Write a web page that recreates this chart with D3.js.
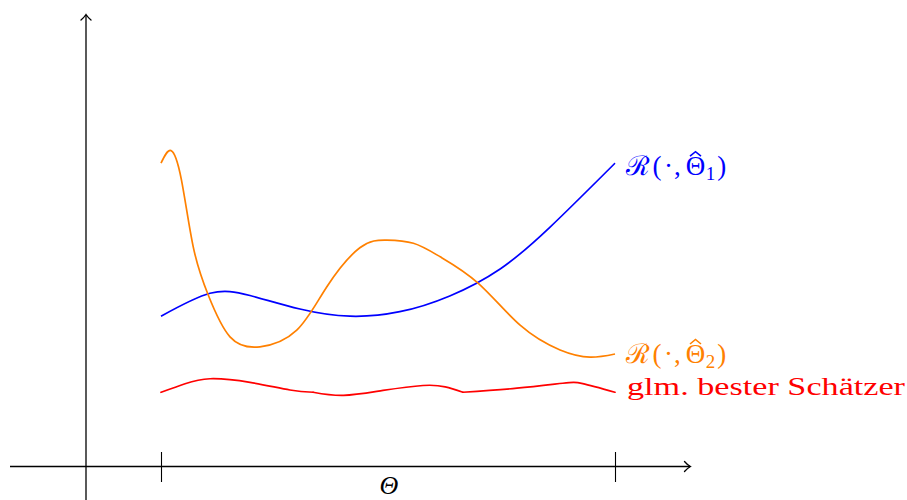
<!DOCTYPE html>
<html><head><meta charset="utf-8">
<script src="https://cdn.jsdelivr.net/npm/d3@7"></script>
<style>body{margin:0;background:#fff}svg{display:block}</style>
</head><body>
<svg id="c" width="907" height="500"></svg>
<script>
// ---- data (x: 0..100 across the Θ interval, y: risk in arbitrary units) ----
const blueX = [0, 10.8, 19.6, 30.6, 41.6, 52.6, 63.6, 74.7, 85.7, 100];
const blueY = [33.4, 38.5, 38.0, 35.0, 33.4, 34.4, 37.9, 43.9, 53.2, 67.4];

const orangeX = [0, 2.2, 4.5, 7.1, 10.4, 15.2, 21.8, 29.9, 36.5, 43.8, 49.7, 55.6, 61.5, 69.9, 79.1, 87.9, 94.5, 100];
const orangeY = [67.4, 70.2, 63.7, 48.8, 38.1, 28.8, 26.6, 30.3, 39.9, 48.6, 50.3, 49.6, 46.6, 40.7, 31.4, 25.9, 24.3, 25.0];

const redX = [0, 5.3, 10.8, 19.6, 28.4, 33.5,   33.5, 40.2, 48.9, 57.7, 62.6, 66.5,   66.5, 78.4, 88.5, 92.9, 100];
const redY = [16.5, 18.4, 19.5, 18.7, 17.0, 16.5, 16.5, 15.8, 16.9, 18.0, 17.7, 16.5, 16.5, 17.4, 18.5, 18.4, 16.5];
const redPieces = [[0, 5], [6, 11], [12, 16]];

const xTicks = [0, 100];
const axisLabel = "Θ";
const labelBlue = {pre: "ℛ(·,", sym: "Θ", sub: "1", tail: ")"};
const labelOrange = {pre: "ℛ(·,", sym: "Θ", sub: "2", tail: ")"};
const labelRed = "glm. bester Schätzer";

// ---- layout ----
const svg = d3.select("#c");
const x = d3.scaleLinear().domain([0, 100]).range([161, 615]);
const y = d3.scaleLinear().domain([0, 100]).range([466.5, 16.5]);
const x0 = 86, yAxisY = 466.5;

// axes
const ax = svg.append("g").attr("stroke", "#000").attr("fill", "none").attr("stroke-width", 1.3);
ax.append("line").attr("x1", 10).attr("x2", 690).attr("y1", yAxisY).attr("y2", yAxisY);
ax.append("path").attr("d", `M684.5,461.5 Q687,464.5 690.5,${yAxisY} Q687,468.5 684.5,471.5`).attr("stroke-linecap","round");
ax.append("line").attr("x1", x0).attr("x2", x0).attr("y1", 505).attr("y2", 15);
ax.append("path").attr("d", `M${x0-5},20 Q${x0-2},17.5 ${x0},14.5 Q${x0+2},17.5 ${x0+5},20`).attr("stroke-linecap","round");

const xAxis = d3.axisBottom(x).tickValues(xTicks).tickSize(30).tickFormat("");
const gx = svg.append("g").attr("transform", `translate(0,${yAxisY - 14.5})`).call(xAxis);
gx.select(".domain").remove();
gx.selectAll(".tick line").attr("stroke", "#000").attr("stroke-width", 1.1);

svg.append("text").attr("x", (x(0) + x(100)) / 2 + 1).attr("y", 494)
  .attr("text-anchor", "middle").attr("font-family", "Liberation Serif, serif")
  .attr("font-style", "italic").attr("font-size", 26).text(axisLabel);

// curves
const zip = (a, b) => a.map((v, i) => [v, b[i]]);
const lineNat = d3.line().x(d => x(d[0])).y(d => y(d[1])).curve(d3.curveNatural);

svg.append("path").datum(zip(blueX, blueY)).attr("d", lineNat)
  .attr("fill", "none").attr("stroke", "#0000ff").attr("stroke-width", 1.7);
svg.append("path").datum(zip(orangeX, orangeY)).attr("d", lineNat)
  .attr("fill", "none").attr("stroke", "#ff8000").attr("stroke-width", 1.7);
const redPts = zip(redX, redY);
redPieces.forEach(([a, b]) => {
  svg.append("path").datum(redPts.slice(a, b + 1)).attr("d", lineNat)
    .attr("fill", "none").attr("stroke", "#ff0000").attr("stroke-width", 1.7).attr("stroke-linecap","round");
});

// labels
function riskLabel(lbl, yv, dy, color) {
  const base = y(yv) + dy;
  const t = svg.append("text").attr("x", x(100) + 11).attr("y", base)
    .attr("font-family", "Liberation Serif, serif").attr("font-size", 27).attr("fill", color);
  const chars = Array.from(lbl.pre);
  chars.forEach((c, i) => t.append("tspan").attr("dx", i === 0 ? 0 : (c === "," ? 1 : 2.5)).text(c));
  t.append("tspan").attr("dx", 5).text(lbl.sym);
  t.append("tspan").attr("font-size", 19).attr("dy", 5).attr("dx", 0.5).text(lbl.sub);
  t.append("tspan").attr("dy", -5).attr("dx", 2).text(lbl.tail);
  // hat over Θ, drawn as a small chevron
  const ext = t.node().getExtentOfChar(chars.length);
  const cx = ext.x + ext.width / 2, top = base - 23.5;
  svg.append("path").attr("d", `M${cx - 5.5},${top + 4.5} L${cx},${top} L${cx + 5.5},${top + 4.5}`)
    .attr("fill", "none").attr("stroke", color).attr("stroke-width", 1.6).attr("stroke-linejoin", "miter");
}
riskLabel(labelBlue, blueY[blueY.length - 1], 12, "#0000ff");
riskLabel(labelOrange, orangeY[orangeY.length - 1], 9, "#ff8000");
svg.append("text").attr("x", x(100) + 12).attr("y", y(redY[redY.length - 1]) + 2.5)
  .attr("font-family", "Liberation Serif, serif").attr("font-size", 26).attr("fill", "#ff0000")
  .attr("textLength", 278).attr("lengthAdjust", "spacingAndGlyphs").text(labelRed);
</script>
</body></html>
